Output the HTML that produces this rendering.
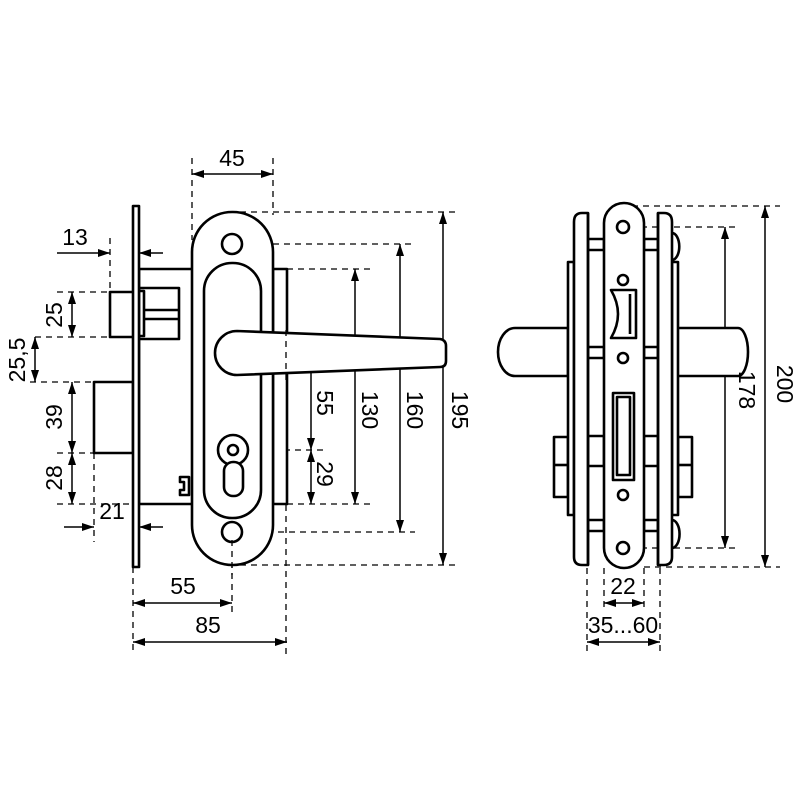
<!DOCTYPE html>
<html><head><meta charset="utf-8"><style>
html,body{margin:0;padding:0;background:#fff}
svg{display:block}
text{font-family:"Liberation Sans",sans-serif;font-size:23px;fill:#000}
</style></head><body>
<svg width="800" height="800" viewBox="0 0 800 800" xmlns="http://www.w3.org/2000/svg">
<defs>
<marker id="a" viewBox="0 0 12 8" refX="12" refY="4" markerWidth="12" markerHeight="8" markerUnits="userSpaceOnUse" orient="auto-start-reverse"><path d="M0,0L12,4L0,8z" fill="#000"/></marker>
</defs>
<g fill="none" stroke="#000" stroke-width="1.3" stroke-dasharray="6,5">
<line x1="192" y1="158" x2="192" y2="240"/><line x1="273" y1="158" x2="273" y2="215"/>
<line x1="240" y1="212" x2="460" y2="212"/>
<line x1="240" y1="244" x2="415" y2="244"/>
<line x1="287" y1="269" x2="370" y2="269"/>
<line x1="250" y1="352" x2="325" y2="352"/>
<line x1="240" y1="450" x2="325" y2="450"/>
<line x1="287" y1="504" x2="370" y2="504"/>
<line x1="245" y1="532" x2="415" y2="532"/>
<line x1="240" y1="565" x2="460" y2="565"/>
<line x1="286" y1="340" x2="286" y2="655"/>
<line x1="110" y1="238" x2="110" y2="292"/>
<line x1="57" y1="292" x2="110" y2="292"/>
<line x1="35" y1="337" x2="110" y2="337"/>
<line x1="30" y1="382" x2="94" y2="382"/>
<line x1="57" y1="453" x2="94" y2="453"/>
<line x1="57" y1="504" x2="133" y2="504"/>
<line x1="94" y1="453" x2="94" y2="542"/>
<line x1="133" y1="567" x2="133" y2="655"/>
<line x1="232" y1="540" x2="232" y2="612"/>
<line x1="632" y1="206" x2="780" y2="206"/><line x1="644" y1="567" x2="780" y2="567"/>
<line x1="630" y1="227" x2="740" y2="227"/><line x1="630" y1="548" x2="740" y2="548"/>
<line x1="604" y1="568" x2="604" y2="610"/><line x1="644" y1="568" x2="644" y2="610"/>
<line x1="587" y1="568" x2="587" y2="655"/><line x1="660" y1="568" x2="660" y2="655"/>
</g>
<g fill="none" stroke="#000" stroke-width="1.5" marker-start="url(#a)" marker-end="url(#a)">
<line x1="192" y1="174" x2="273" y2="174"/>
<line x1="443" y1="212" x2="443" y2="565"/>
<line x1="400" y1="244" x2="400" y2="532"/>
<line x1="355" y1="269" x2="355" y2="504"/>
<line x1="311" y1="352" x2="311" y2="450"/>
<line x1="311" y1="450" x2="311" y2="504"/>
<line x1="72" y1="292" x2="72" y2="337"/>
<line x1="35" y1="337" x2="35" y2="382"/>
<line x1="72" y1="382" x2="72" y2="453"/>
<line x1="72" y1="453" x2="72" y2="504"/>
<line x1="133" y1="603" x2="232" y2="603"/>
<line x1="133" y1="642" x2="287" y2="642"/>
<line x1="765" y1="206" x2="765" y2="567"/>
<line x1="725" y1="227" x2="725" y2="548"/>
<line x1="604" y1="603" x2="644" y2="603"/>
<line x1="587" y1="642" x2="660" y2="642"/>
</g>
<g fill="none" stroke="#000" stroke-width="1.5" marker-end="url(#a)">
<line x1="57" y1="253" x2="110" y2="253"/><line x1="163" y1="253" x2="139" y2="253"/>
<line x1="64" y1="527" x2="94" y2="527"/><line x1="163" y1="527" x2="139" y2="527"/>
</g>
<g fill="#fff" stroke="#000" stroke-width="2.6" stroke-linejoin="round">
<rect x="139" y="269" width="148" height="235"/>
<rect x="110" y="292" width="29" height="45"/>
<rect x="139" y="288" width="40" height="51"/>
<line x1="139" y1="310" x2="179" y2="310"/><line x1="139" y1="319" x2="179" y2="319"/>
<rect x="139" y="291" width="5" height="45"/>
<rect x="94" y="382" width="39" height="71"/>
<path d="M180,477h9v18h-9v-5h4v-8h-4z"/>
<rect x="133" y="206" width="6" height="361" fill="#fff"/>
<line x1="273" y1="269" x2="273" y2="504"/>
<rect x="192" y="212" width="81" height="353" rx="40"/>
<rect x="204" y="263" width="57" height="255" rx="28"/>
<circle cx="232" cy="244" r="10"/><circle cx="232" cy="532" r="10"/>
<path d="M237,331 L440,339 Q446,340 446,346 L446,361 Q446,367 440,367 L237,375 A22,22 0 0 1 237,331z"/>
<circle cx="233" cy="450" r="15"/>
<rect x="224" y="462" width="19" height="34" rx="9"/>
<circle cx="233" cy="450" r="5"/>
</g>
<g fill="none" stroke="#000" stroke-width="1.3" stroke-dasharray="6,5">
<line x1="286" y1="330" x2="286" y2="380"/>
<line x1="232" y1="540" x2="232" y2="575"/>
</g>
<g fill="#fff" stroke="#000" stroke-width="2.6" stroke-linejoin="round">
<path d="M568,328 H515 A17,24 0 0 0 515,376 H568z"/>
<path d="M677,328 H738 A10,24 0 0 1 738,376 H677z"/>
<rect x="554" y="437" width="14" height="60"/><line x1="554" y1="465" x2="568" y2="465"/>
<rect x="678" y="437" width="14" height="60"/><line x1="678" y1="465" x2="692" y2="465"/>
<rect x="568" y="262" width="6" height="253"/>
<rect x="672" y="262" width="6" height="253"/>
<path d="M672,233 A7,13 0 0 1 672,260"/><path d="M672,520 A7,13 0 0 1 672,548"/>
<rect x="588" y="239" width="16" height="11"/><rect x="644" y="239" width="14" height="11"/>
<rect x="588" y="347" width="16" height="11"/><rect x="644" y="347" width="14" height="11"/>
<rect x="588" y="436" width="16" height="30"/><rect x="644" y="436" width="14" height="30"/>
<rect x="588" y="520" width="16" height="11"/><rect x="644" y="520" width="14" height="11"/>
<path d="M588,213 H582 Q574,213 574,222 V557 Q574,565 582,565 H588z"/>
<path d="M658,213 H664 Q672,213 672,222 V557 Q672,565 664,565 H658z"/>
<line x1="588" y1="213" x2="588" y2="565"/><line x1="658" y1="213" x2="658" y2="565"/>
<rect x="604" y="203" width="40" height="365" rx="20"/>
<circle cx="623" cy="227" r="6"/><circle cx="623" cy="280" r="5"/>
<circle cx="623" cy="358" r="5"/><circle cx="623" cy="495" r="5"/><circle cx="623" cy="548" r="6"/>
<path d="M611,290 H636 V338 H611 Q618,326 618,314 Q618,302 611,290z"/>
<line x1="630" y1="294" x2="630" y2="334"/>
<rect x="613" y="393" width="21" height="87"/>
<rect x="617" y="397" width="13" height="78"/>
</g>
<text x="232" y="166" text-anchor="middle">45</text>
<text x="75" y="245" text-anchor="middle">13</text>
<text x="112" y="519" text-anchor="middle">21</text>
<text x="183" y="594" text-anchor="middle">55</text>
<text x="208" y="633" text-anchor="middle">85</text>
<text x="623" y="594" text-anchor="middle">22</text>
<text x="623" y="633" text-anchor="middle">35...60</text>
<text transform="translate(54,315) rotate(-90)" text-anchor="middle" dy="8">25</text>
<text transform="translate(17,360) rotate(-90)" text-anchor="middle" dy="8">25,5</text>
<text transform="translate(54,417) rotate(-90)" text-anchor="middle" dy="8">39</text>
<text transform="translate(54,478) rotate(-90)" text-anchor="middle" dy="8">28</text>
<text transform="translate(325,403) rotate(90)" text-anchor="middle" dy="8">55</text>
<text transform="translate(325,474) rotate(90)" text-anchor="middle" dy="8">29</text>
<text transform="translate(370,410) rotate(90)" text-anchor="middle" dy="8">130</text>
<text transform="translate(415,410) rotate(90)" text-anchor="middle" dy="8">160</text>
<text transform="translate(460,410) rotate(90)" text-anchor="middle" dy="8">195</text>
<text transform="translate(747,390) rotate(90)" text-anchor="middle" dy="8">178</text>
<text transform="translate(785,384) rotate(90)" text-anchor="middle" dy="8">200</text>
</svg>
</body></html>
